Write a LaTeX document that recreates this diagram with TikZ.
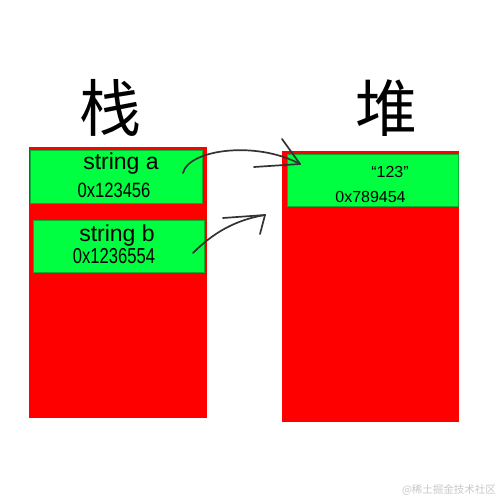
\documentclass[tikz,border=0pt]{standalone}
\usepackage{fontspec}
\setmainfont{Liberation Sans}
\newfontfamily\cjk{Noto Sans CJK SC}
\definecolor{boxred}{HTML}{FF0000}
\definecolor{boxgreen}{HTML}{00FF40}
\definecolor{ink}{HTML}{333333}
\definecolor{wm}{HTML}{C8C8C8}
\begin{document}
\begin{tikzpicture}[x=1pt,y=-1pt,
  redbox/.style={fill=boxred, draw=none, inner sep=0pt, minimum width=#1},
  greenbox/.style={fill=boxgreen, draw=boxgreen!70!black, line width=0.4pt, inner sep=0pt, minimum width=#1},
  lbl/.style={inner sep=0pt, text=black},
  hand/.style={draw=ink, line width=1.7pt, line cap=round, line join=round}]
\useasboundingbox (0,0) rectangle (500,500);
\fill[white] (0,0) rectangle (500,500);
% containers
\node[redbox=178pt, minimum height=271pt] (stack) at (118,282.5) {};
\node[redbox=177pt, minimum height=271pt] (heap) at (370.5,286.5) {};
% cells
\node[greenbox=172pt, minimum height=53pt] (a) at (116,176.5) {};
\node[greenbox=171pt, minimum height=52pt] (b) at (118.5,246) {};
\node[greenbox=171pt, minimum height=52pt] (v) at (372.5,180) {};
% titles
\node[lbl, font=\cjk\fontsize{62}{62}\selectfont] (t1) at (110,108) {栈};
\node[lbl, font=\cjk\fontsize{62}{62}\selectfont] (t2) at (386,108) {堆};
% texts
\node[lbl, font=\fontsize{23}{23}\selectfont] (sa) at (121,164) {string a};
\node[lbl, font=\fontsize{16.6}{16.6}\selectfont] (aa) at (114,190.5) {\scalebox{1}[1.25]{0x123456}};
\node[lbl, font=\fontsize{23}{23}\selectfont] (sb) at (117,236) {string b};
\node[lbl, font=\fontsize{16.6}{16.6}\selectfont] (ab) at (114,256) {\scalebox{1}[1.3]{0x1236554}};
\node[lbl, font=\fontsize{16}{16}\selectfont] (vv) at (390,172) {“123”};
\node[lbl, font=\fontsize{16}{16}\selectfont] (av) at (370.5,197) {0x789454};
% watermark
\node[lbl, text=wm, font=\cjk\fontsize{10.5}{10.5}\selectfont] (wmk) at (449,490) {@稀土掘金技术社区};
% hand-drawn arrows
\coordinate (s1) at (183,173);
\coordinate (e1) at (300,164);
\coordinate (h1a) at (282,139);
\coordinate (h1b) at (254,167);
\coordinate (s2) at (193,253);
\coordinate (e2) at (265,215);
\coordinate (h2a) at (223,218);
\coordinate (h2b) at (260,234);
\path[hand] (s1) .. controls (188,150) and (255,140) .. (e1);
\path[hand] (h1a) -- (e1);
\path[hand] (h1b) -- (e1);
\path[hand] (s2) .. controls (213,233) and (235,220) .. (e2);
\path[hand] (h2a) -- (e2);
\path[hand] (h2b) -- (e2);
\end{tikzpicture}
\end{document}
